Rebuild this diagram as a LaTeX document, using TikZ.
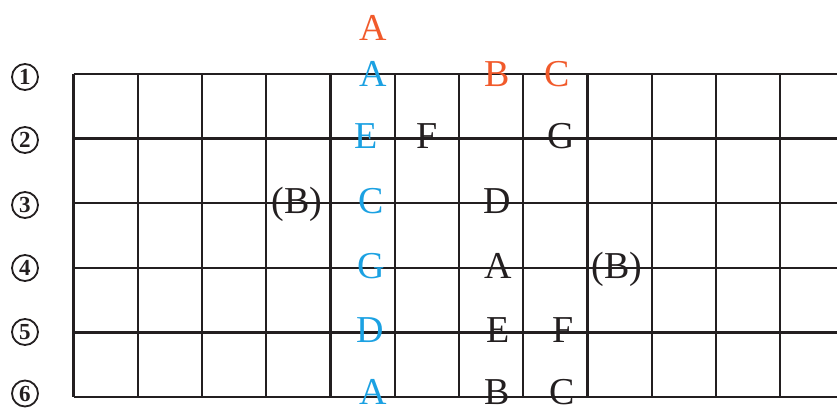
\documentclass[tikz,border=0pt]{standalone}
\usepackage{fontspec}
\setmainfont{Liberation Serif}
\definecolor{nred}{HTML}{F15A2B}
\definecolor{nblue}{HTML}{1BA1E2}
\definecolor{nblack}{HTML}{231F20}
\begin{document}
\begin{tikzpicture}[x=1pt,y=-1pt,
  gridline/.style={draw=nblack,line width=2.3pt},
  note/.style={anchor=base,inner sep=0pt,font=\fontsize{38}{38}\selectfont,text=nblack},
  rednote/.style={note,text=nred},
  bluenote/.style={note,text=nblue},
  strnum/.style={circle,draw=nblack,line width=1.8pt,minimum size=26pt,inner sep=0pt,
    font=\fontsize{23}{23}\selectfont\bfseries,text=nblack}]
\useasboundingbox (0,0) rectangle (837,407);
% grid
\foreach \r in {0,...,5}{
  \draw[gridline] (73.5,{74+64.6*\r}) -- (837,{74+64.6*\r});
}
\foreach \c in {0,...,11}{
  \draw[gridline] ({73.5+64.25*\c},74) -- ({73.5+64.25*\c},397);
}
% string numbers
\node[strnum] (s1) at (25,77) {1};
\node[strnum] (s2) at (25,140) {2};
\node[strnum] (s3) at (25,205) {3};
\node[strnum] (s4) at (25,268) {4};
\node[strnum] (s5) at (25,332) {5};
\node[strnum] (s6) at (25,393.5) {6};
% red notes
\node[rednote] (ra) at (373,40) {A};
\node[rednote] (rb) at (497,86) {B};
\node[rednote] (rc) at (557,86) {C};
% blue notes
\node[bluenote] (b1) at (373,86) {A};
\node[bluenote] (b2) at (366,148.6) {E};
\node[bluenote] (b3) at (371,213.2) {C};
\node[bluenote] (b4) at (371,278) {G};
\node[bluenote] (b5) at (370,342.6) {D};
\node[bluenote] (b6) at (373,404) {A};
% black notes
\node[note] (f2) at (427,148.6) {F};
\node[note] (g2) at (561,148.6) {G};
\node[note] (bb3) at (297,213.2) {(B)};
\node[note] (d3) at (497,213.2) {D};
\node[note] (a4) at (498,278) {A};
\node[note] (bb4) at (617,278) {(B)};
\node[note] (e5) at (498,342.6) {E};
\node[note] (f5) at (563,342.6) {F};
\node[note] (b6b) at (497,404) {B};
\node[note] (c6) at (562,404) {C};
\end{tikzpicture}
\end{document}
